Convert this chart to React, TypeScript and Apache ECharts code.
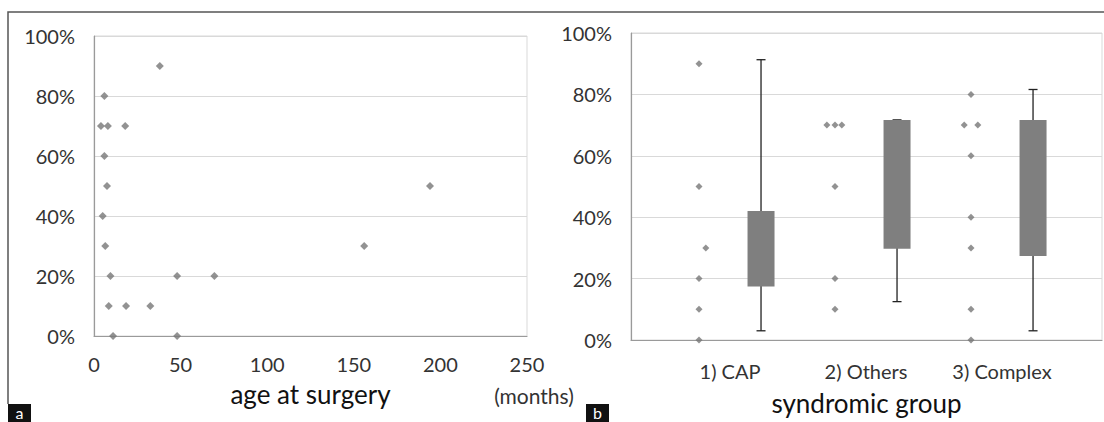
import React, { useEffect, useRef } from "react";
import * as echarts from "echarts";

// ---- data ----
// panel a: age at surgery (months) vs score (%)
const ageMonths = [38, 6, 4, 8, 18, 6, 7.5, 5, 6.5, 9.5, 48, 69.5, 8.5, 18.5, 32.5, 11, 48, 194, 156];
const ageScore = [90, 80, 70, 70, 70, 60, 50, 40, 30, 20, 20, 20, 10, 10, 10, 0, 0, 50, 30];
const ageTicks = [0, 50, 100, 150, 200, 250];
const pctTicks = [0, 20, 40, 60, 80, 100];

// panel b: syndromic groups
const groups = ["1) CAP", "2) Others", "3) Complex"];
const capScores = [90, 50, 30, 20, 10, 0];
const othersScores = [70, 70, 70, 50, 20, 10];
const complexScores = [80, 70, 70, 60, 40, 30, 10, 0];
const capJitter = [0, 0, 0.05, 0, 0, 0];
const othersJitter = [-0.06, 0, 0.05, 0, 0, 0];
const complexJitter = [0, -0.05, 0.05, 0, 0, 0, 0, 0];
const boxLow = [3, 12.5, 3];
const boxQ1 = [17.4, 29.7, 27.4];
const boxQ3 = [42, 71.7, 71.7];
const boxHigh = [91.3, 71.7, 81.6];

// ---- layout constants ----
const FONT = "Lato";
const POINT_OFFSET = -0.228;
const BOX_OFFSET = 0.228;
const TICK_COLOR = "#333333";
const TITLE_COLOR = "#111111";
const GRID_COLOR = "#d9d9d9";
const AXIS_COLOR = "#9a9a9a";
const POINT_COLOR = "#777777";

const groupScores = [capScores, othersScores, complexScores];
const groupJitter = [capJitter, othersJitter, complexJitter];

function buildOption(): any {
  const groupPoints: number[][] = [];
  groupScores.forEach((scores, i) => {
    scores.forEach((v, k) => {
      groupPoints.push([i + POINT_OFFSET + groupJitter[i][k], v]);
    });
  });

  const tickLabel = { color: TICK_COLOR, fontFamily: FONT, fontSize: 20 };

  return {
    animation: false,
    backgroundColor: "#ffffff",
    grid: [
      { left: 94, top: 36, width: 433, height: 300, show: true, borderColor: GRID_COLOR, borderWidth: 1 },
      { left: 631, top: 33, width: 471, height: 307, show: true, borderColor: GRID_COLOR, borderWidth: 1 },
    ],
    xAxis: [
      {
        type: "value",
        gridIndex: 0,
        min: ageTicks[0],
        max: ageTicks[ageTicks.length - 1],
        interval: ageTicks[1] - ageTicks[0],
        axisLine: { show: true, onZero: false, lineStyle: { color: AXIS_COLOR, width: 1.2 } },
        axisTick: { show: false },
        splitLine: { show: false },
        axisLabel: { ...tickLabel, margin: 18 },
        name: "age at surgery",
        nameLocation: "middle",
        nameGap: 45,
        nameTextStyle: { color: TITLE_COLOR, fontFamily: FONT, fontSize: 26 },
      },
      {
        type: "value",
        gridIndex: 1,
        min: -0.728,
        max: 2.735,
        axisLine: { show: true, onZero: false, lineStyle: { color: AXIS_COLOR, width: 1.2 } },
        axisTick: { show: false },
        splitLine: { show: false },
        axisLabel: {
          ...tickLabel,
          margin: 21,
          customValues: groups.map((_, i) => i),
          formatter: (v: number) => groups[Math.round(v)] ?? "",
        },
        name: "syndromic group",
        nameLocation: "middle",
        nameGap: 50,
        nameTextStyle: { color: TITLE_COLOR, fontFamily: FONT, fontSize: 26 },
      },
    ],
    yAxis: [0, 1].map((gi) => ({
      type: "value",
      gridIndex: gi,
      min: pctTicks[0],
      max: pctTicks[pctTicks.length - 1],
      interval: pctTicks[1] - pctTicks[0],
      axisLine: { show: true, onZero: false, lineStyle: { color: AXIS_COLOR, width: 1.2 } },
      axisTick: { show: false },
      splitLine: { show: true, lineStyle: { color: GRID_COLOR, width: 1 } },
      axisLabel: { ...tickLabel, margin: 19, formatter: "{value}%" },
    })),
    series: [
      {
        type: "scatter",
        xAxisIndex: 0,
        yAxisIndex: 0,
        symbol: "diamond",
        symbolSize: 8,
        itemStyle: { color: POINT_COLOR },
        data: ageMonths.map((a, i) => [a, ageScore[i]]),
      },
      {
        type: "custom",
        xAxisIndex: 1,
        yAxisIndex: 1,
        encode: { x: 0, y: [1, 2, 3, 4] },
        data: groups.map((_, i) => [i, boxLow[i], boxQ1[i], boxQ3[i], boxHigh[i]]),
        renderItem: (params: any, api: any) => {
          const x = api.value(0) + BOX_OFFSET;
          const low = api.coord([x, api.value(1)]);
          const cx = low[0];
          const yLow = low[1];
          const yQ1 = api.coord([x, api.value(2)])[1];
          const yQ3 = api.coord([x, api.value(3)])[1];
          const yHigh = api.coord([x, api.value(4)])[1];
          const ws = { stroke: "#222222", lineWidth: 1.3 };
          return {
            type: "group",
            children: [
              { type: "line", shape: { x1: cx, y1: yHigh, x2: cx, y2: yLow }, style: ws },
              { type: "line", shape: { x1: cx - 4.5, y1: yHigh, x2: cx + 4.5, y2: yHigh }, style: ws },
              { type: "line", shape: { x1: cx - 4.5, y1: yLow, x2: cx + 4.5, y2: yLow }, style: ws },
              {
                type: "rect",
                shape: { x: cx - 13.5, y: yQ3, width: 27, height: yQ1 - yQ3 },
                style: { fill: "#7f7f7f" },
              },
            ],
          };
        },
      },
      {
        type: "scatter",
        xAxisIndex: 1,
        yAxisIndex: 1,
        symbol: "diamond",
        symbolSize: 7,
        itemStyle: { color: POINT_COLOR },
        data: groupPoints,
        z: 3,
      },
    ],
    graphic: [
      {
        type: "polyline",
        shape: { points: [[8, 404], [8, 12], [1104, 12]] },
        style: { stroke: "#555555", lineWidth: 1.5, fill: null },
      },
      {
        type: "text",
        x: 534,
        y: 395,
        style: {
          text: "(months)",
          fill: TICK_COLOR,
          font: `21px ${FONT}`,
          textAlign: "center",
          textVerticalAlign: "middle",
        },
      },
      {
        type: "group",
        children: [
          { type: "rect", shape: { x: 8, y: 404, width: 23, height: 18 }, style: { fill: "#111111" } },
          {
            type: "text",
            x: 19.5,
            y: 412,
            style: { text: "a", fill: "#ffffff", font: `16px ${FONT}`, textAlign: "center", textVerticalAlign: "middle" },
          },
          { type: "rect", shape: { x: 586, y: 404, width: 23, height: 18 }, style: { fill: "#111111" } },
          {
            type: "text",
            x: 597.5,
            y: 412,
            style: { text: "b", fill: "#ffffff", font: `16px ${FONT}`, textAlign: "center", textVerticalAlign: "middle" },
          },
        ],
      },
    ],
  };
}

export default function App() {
  const ref = useRef<HTMLDivElement>(null);
  useEffect(() => {
    if (!ref.current) return;
    const chart = echarts.init(ref.current, null, { renderer: "svg" });
    chart.setOption(buildOption());
    return () => chart.dispose();
  }, []);
  return (
    <div
      ref={ref}
      style={{ position: "fixed", left: 0, top: 0, width: 1104, height: 422, background: "#ffffff" }}
    />
  );
}
